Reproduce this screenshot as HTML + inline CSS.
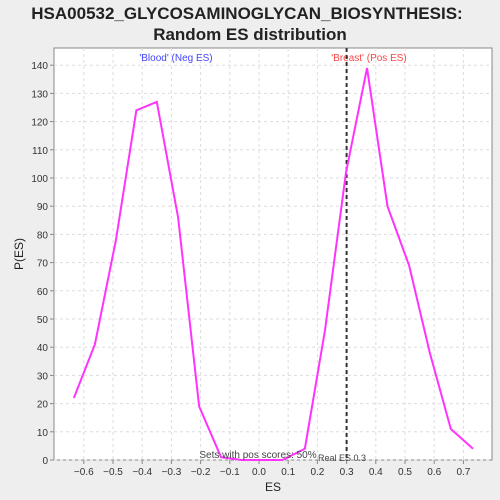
<!DOCTYPE html>
<html><head><meta charset="utf-8"><style>
body{margin:0;background:#eeeeee;font-family:"Liberation Sans",sans-serif}
svg{display:block}
</style></head><body>
<svg width="500" height="500">
<rect x="0" y="0" width="500" height="500" fill="#eeeeee"/>
<text x="247" y="19" text-anchor="middle" font-size="17" font-weight="bold" fill="#222">HSA00532_GLYCOSAMINOGLYCAN_BIOSYNTHESIS:</text>
<text x="250" y="40" text-anchor="middle" font-size="17" font-weight="bold" fill="#222">Random ES distribution</text>
<rect x="54" y="48" width="438" height="412" fill="#ffffff" stroke="#888"/>
<g id="grid"></g><g id="axes"></g>
<text x="176" y="61" text-anchor="middle" font-size="10" fill="#4444ff">'Blood' (Neg ES)</text>
<text x="369" y="61" text-anchor="middle" font-size="10" fill="#ff4444">'Breast' (Pos ES)</text>
<g id="marks"></g>
<text x="258" y="458" text-anchor="middle" font-size="10" fill="#444">Sets with pos scores: 50%</text>
<text x="342" y="461" text-anchor="middle" font-size="9" fill="#444">Real ES 0.3</text>
<text x="273" y="491" text-anchor="middle" font-size="12" fill="#222">ES</text>
<text x="23" y="254" text-anchor="middle" font-size="12" fill="#222" transform="rotate(-90 23 254)">P(ES)</text>
</svg>
<script>
const esValues=[-0.634,-0.562,-0.49,-0.42,-0.35,-0.277,-0.205,-0.13,-0.06,0.01,0.08,0.157,0.226,0.298,0.37,0.44,0.514,0.585,0.657,0.733];
const counts=[22,41,78,124,127,86,19,1,0,0,0,4,46,102,139,90,69,38,11,4];
const xTicks=[-0.6,-0.5,-0.4,-0.3,-0.2,-0.1,0,0.1,0.2,0.3,0.4,0.5,0.6,0.7];
const yTicks=[0,10,20,30,40,50,60,70,80,90,100,110,120,130,140];
const realES=0.3;
const NS='http://www.w3.org/2000/svg';
const X=v=>259+v*292;
const Y=v=>460-v*2.82;
function mk(p,t,a){const e=document.createElementNS(NS,t);for(const k in a)e.setAttribute(k,a[k]);p.appendChild(e);return e;}
const grid=document.getElementById('grid'),axes=document.getElementById('axes'),marks=document.getElementById('marks');
xTicks.forEach(t=>{
 const g=mk(grid,'line',{x1:X(t),x2:X(t),y1:48,y2:460,stroke:'#ddd','stroke-dasharray':'3,3'});
 
 
 const l=mk(axes,'line',{x1:X(t),x2:X(t),y1:460,y2:464,stroke:'#888'});
 
 
 const tx=mk(axes,'text',{x:X(t),y:475,'text-anchor':'middle','font-size':'10',fill:'#333'});
 tx.textContent=(t<0?'\u2212':'')+Math.abs(t).toFixed(1);
 
 
});
yTicks.forEach(t=>{
 const g=mk(grid,'line',{x1:54,x2:492,y1:Y(t),y2:Y(t),stroke:'#ddd','stroke-dasharray':'3,3'});
 
 
 const l=mk(axes,'line',{x1:50,x2:54,y1:Y(t),y2:Y(t),stroke:'#888'});
 
 
 const tx=mk(axes,'text',{x:48,y:Y(t)+4,'text-anchor':'end','font-size':'10',fill:'#333'});
 tx.textContent=t;
 
 
});
const rl=mk(marks,'line',{x1:X(realES),x2:X(realES),y1:48,y2:460,stroke:'#333','stroke-width':2,'stroke-dasharray':'4,3'});


const pl=mk(marks,'polyline',{points:esValues.map((v,i)=>X(v)+','+Y(counts[i])).join(' '),fill:'none',stroke:'#ff33ff','stroke-width':2});


</script>
</body></html>
